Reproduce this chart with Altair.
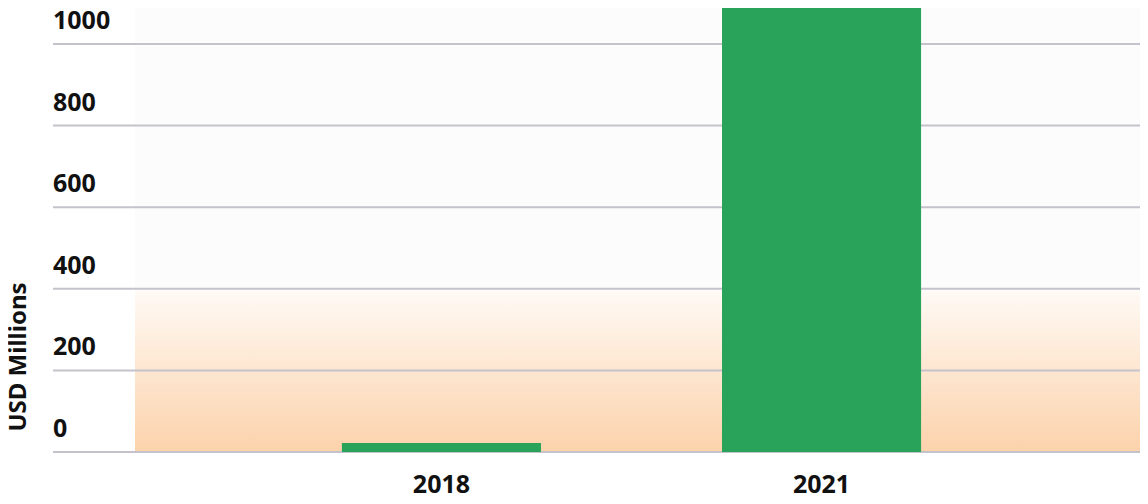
import altair as alt
import pandas as pd

years = ["2018", "2021"]
values = [22, 1105]
tick_values = [0, 200, 400, 600, 800, 1000]
tick_labels = ["0", "200", "400", "600", "800", "1000"]
glow_range = [0, 395]
y_title = "USD Millions"

FONT = "Noto Sans"
INK = "#111111"

bars_df = pd.DataFrame({"year": years, "value": values})
grid_df = pd.DataFrame({"tick": tick_values, "label": tick_labels})
glow_df = pd.DataFrame({"lo": [glow_range[0]], "hi": [glow_range[1]]})
title_df = pd.DataFrame({"t": [y_title]})

yscale = alt.Scale(domain=[0, 1088], clamp=True, nice=False, zero=True)
xscale = alt.Scale(domain=years, paddingInner=0.4763, paddingOuter=0.668,
                   align=0.5689, round=False)

bg = alt.Chart(title_df).mark_rect(color="#fcfcfd").encode(
    x=alt.value(82), x2=alt.value(1087), y=alt.value(0), y2=alt.value(444)
)

glow = alt.Chart(glow_df).mark_rect(
    color=alt.Gradient(
        gradient="linear",
        stops=[
            alt.GradientStop(color="#fcd2ab", offset=0),
            alt.GradientStop(color="#fffaf5", offset=1),
        ],
        x1=0, x2=0, y1=1, y2=0,
    )
).encode(
    x=alt.value(82), x2=alt.value(1087),
    y=alt.Y("lo:Q", scale=yscale, axis=None),
    y2="hi:Q",
)

rules = alt.Chart(grid_df).mark_rule(color="#c4c3cc", strokeWidth=2).encode(
    y=alt.Y("tick:Q", scale=yscale, axis=None)
)

ylabels = alt.Chart(grid_df).mark_text(
    align="left", baseline="alphabetic", dy=-15, font=FONT, fontSize=25,
    fontWeight="bold", color=INK,
).encode(
    x=alt.value(0),
    y=alt.Y("tick:Q", scale=yscale, axis=None),
    text="label:N",
)

ytitle = alt.Chart(title_df).mark_text(
    align="center", baseline="alphabetic", angle=270, font=FONT, fontSize=24,
    fontWeight="bold", color=INK,
).encode(x=alt.value(-27), y=alt.value(349), text="t:N")

bars = alt.Chart(bars_df).mark_bar(color="#29a35a").encode(
    x=alt.X(
        "year:N",
        scale=xscale,
        sort=years,
        axis=alt.Axis(
            title=None, domain=False, ticks=False, tickSize=0, labelPadding=40,
            labelBaseline="alphabetic", labelAngle=0, labelFont=FONT,
            labelFontSize=25, labelFontWeight="bold", labelColor=INK,
        ),
    ),
    y=alt.Y("value:Q", scale=yscale, axis=None),
)

chart = alt.layer(bg, glow, rules, bars, ylabels, ytitle).properties(
    width=1087,
    height=444,
    autosize=alt.AutoSizeParams(type="none"),
    padding={"left": 45, "top": 0, "right": 0, "bottom": 44},
).configure_view(stroke=None)

chart.save("out.html", embed_options={"renderer": "svg", "actions": False})
